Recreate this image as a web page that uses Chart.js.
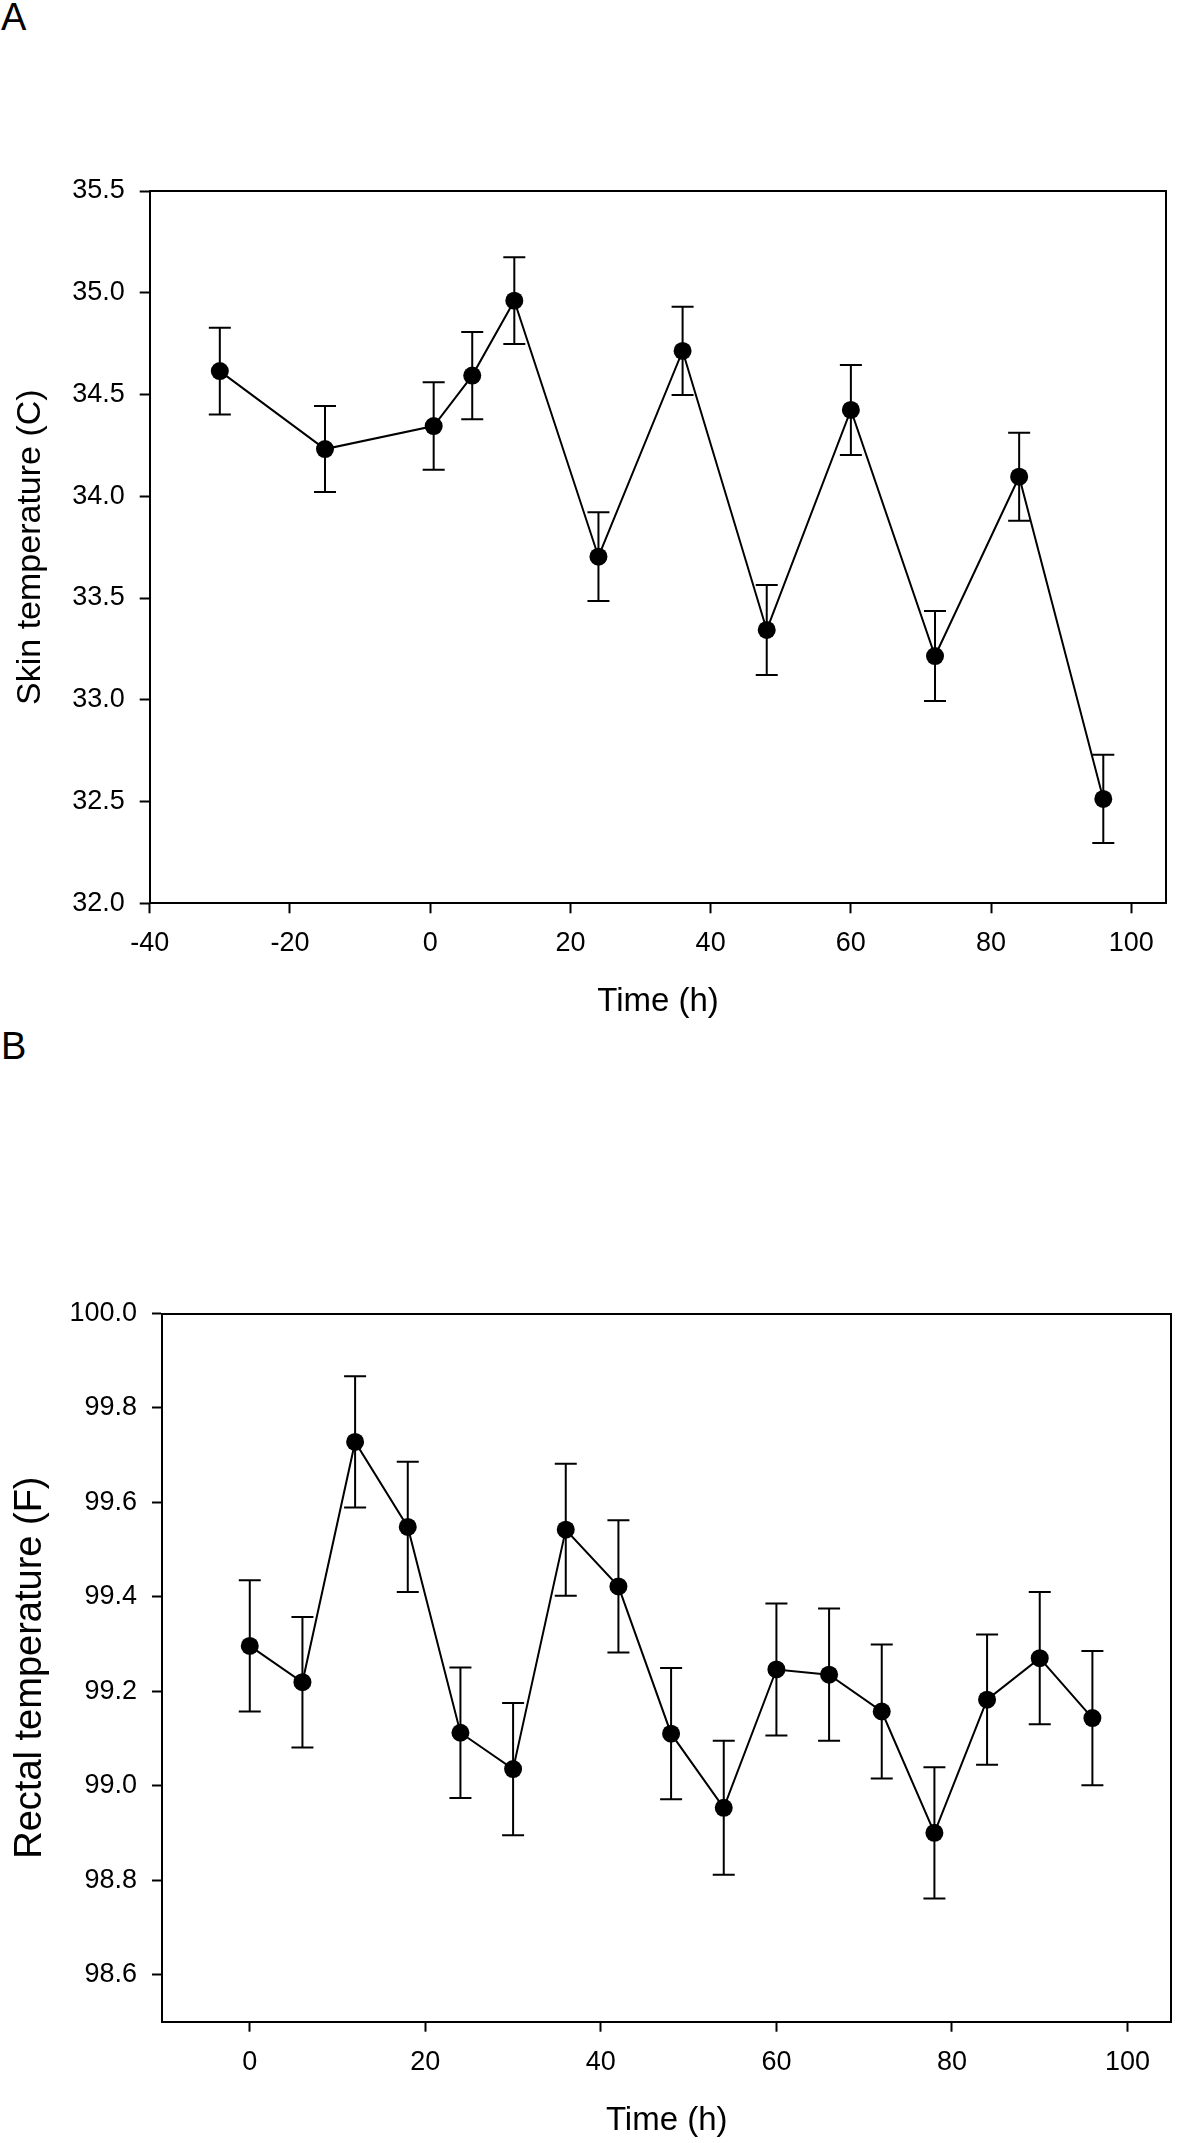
<!DOCTYPE html>
<html>
<head>
<meta charset="utf-8">
<script src="https://cdn.jsdelivr.net/npm/chart.js@4/dist/chart.umd.min.js"></script>
<style>
  html, body { margin: 0; padding: 0; background: #fff; }
  #page { position: relative; width: 1200px; height: 2143px; background: #fff; overflow: hidden; }
  .panel { position: absolute; left: 0; width: 1200px; }
  .letter { position: absolute; left: 1px; font-family: "Liberation Sans", Arial, sans-serif; font-size: 38px; line-height: 38px; color: #000; }
</style>
</head>
<body>
<div id="page">
  <div class="letter" style="top:-2px;">A</div>
  <div class="letter" style="top:1027px;">B</div>
  <div class="panel" style="top:0px; height:1070px;"><canvas id="chartA"></canvas></div>
  <div class="panel" style="top:1090px; height:1053px;"><canvas id="chartB"></canvas></div>
</div>
<script>
// ---------- Panel A: skin temperature ----------
const timeA = [-30, -15, 0.5, 6, 12, 24, 36, 48, 60, 72, 84, 96];
const skinTemp = [34.615, 34.232, 34.345, 34.593, 34.961, 33.703, 34.714, 33.343, 34.424, 33.215, 34.096, 32.513];
const skinSE = [0.213, 0.211, 0.215, 0.214, 0.213, 0.218, 0.217, 0.221, 0.221, 0.221, 0.216, 0.217];
const xTicksA = [-40, -20, 0, 20, 40, 60, 80, 100];
const yTicksA = [32.0, 32.5, 33.0, 33.5, 34.0, 34.5, 35.0, 35.5];

// ---------- Panel B: rectal temperature ----------
const timeB = [0, 6, 12, 18, 24, 30, 36, 42, 48, 54, 60, 66, 72, 78, 84, 90, 96];
const rectalTemp = [99.296, 99.219, 99.728, 99.548, 99.112, 99.035, 99.542, 99.422, 99.110, 98.953, 99.246, 99.235, 99.157, 98.900, 99.182, 99.270, 99.143];
const rectalSE = [0.139, 0.138, 0.139, 0.138, 0.138, 0.140, 0.140, 0.140, 0.139, 0.142, 0.140, 0.140, 0.142, 0.139, 0.138, 0.140, 0.142];
const xTicksB = [0, 20, 40, 60, 80, 100];
const yTicksB = [98.6, 98.8, 99.0, 99.2, 99.4, 99.6, 99.8, 100.0];

Chart.defaults.font.family = '"Liberation Sans", Arial, sans-serif';
Chart.defaults.color = '#000';

const errorBars = {
  id: 'errorBars',
  beforeDatasetsDraw(chart, args, opts) {
    const ctx = chart.ctx;
    const xs = chart.scales.x, ys = chart.scales.y;
    const t = opts.times, v = opts.values, e = opts.errors;
    ctx.save();
    ctx.strokeStyle = '#000';
    ctx.lineWidth = 2;
    for (let i = 0; i < t.length; i++) {
      const px = xs.getPixelForValue(t[i]);
      const pt = ys.getPixelForValue(v[i] + e[i]);
      const pb = ys.getPixelForValue(v[i] - e[i]);
      ctx.beginPath();
      ctx.moveTo(px, pt); ctx.lineTo(px, pb);
      ctx.moveTo(px - 11, pt); ctx.lineTo(px + 11, pt);
      ctx.moveTo(px - 11, pb); ctx.lineTo(px + 11, pb);
      ctx.stroke();
    }
    ctx.restore();
  }
};

function frameAxis(pos) {
  return {
    type: 'linear', position: pos, display: true,
    ticks: { display: false },
    grid: { display: false, drawOnChartArea: false, drawTicks: false },
    border: { display: true, color: '#000', width: 2 },
    afterFit(s) { if (pos === 'top') s.height = 0; else s.width = 0; }
  };
}

function makeChart(id, times, values, errors, xMin, xMax, xTicks, yMin, yMax, yTicks, yTitle, yTitleSize, yTitlePad, padding, yWidth) {
  const pts = times.map((t, i) => ({ x: t, y: values[i] }));
  return new Chart(document.getElementById(id), {
    type: 'line',
    data: {
      datasets: [{
        data: pts,
        borderColor: '#000',
        borderWidth: 2,
        backgroundColor: '#000',
        pointBackgroundColor: '#000',
        pointBorderColor: '#000',
        pointBorderWidth: 0,
        pointRadius: 9,
        pointHoverRadius: 9,
        tension: 0,
        fill: false
      }]
    },
    options: {
      responsive: true,
      maintainAspectRatio: false,
      animation: false,
      events: [],
      layout: { padding: padding },
      plugins: {
        legend: { display: false },
        tooltip: { enabled: false },
        errorBars: { times: times, values: values, errors: errors }
      },
      scales: {
        x: {
          type: 'linear', position: 'bottom', min: xMin, max: xMax,
          afterBuildTicks(s) { s.ticks = xTicks.map(v => ({ value: v })); },
          ticks: { font: { size: 27 }, color: '#000', padding: 14.5, maxRotation: 0, autoSkip: false,
                   callback: v => String(v) },
          grid: { display: true, drawOnChartArea: false, drawTicks: true, tickLength: 10, tickWidth: 2, tickColor: '#000' },
          border: { display: true, color: '#000', width: 2 },
          title: { display: true, text: 'Time (h)', font: { size: 33 }, color: '#000', padding: { top: 0, bottom: 1.2 } },
          afterFit(s) { s.height = 120; }
        },
        y: {
          type: 'linear', position: 'left', min: yMin, max: yMax,
          afterBuildTicks(s) { s.ticks = yTicks.map(v => ({ value: v })); },
          ticks: { font: { size: 27 }, color: '#000', padding: 15, autoSkip: false,
                   callback: v => Number(v).toFixed(1) },
          grid: { display: true, drawOnChartArea: false, drawTicks: true, tickLength: 10, tickWidth: 2, tickColor: '#000' },
          border: { display: true, color: '#000', width: 2 },
          title: { display: true, text: yTitle, font: { size: yTitleSize }, color: '#000', padding: { top: yTitlePad, bottom: 0 } },
          afterFit(s) { s.width = yWidth; }
        },
        x2: frameAxis('top'),
        y2: frameAxis('right')
      }
    },
    plugins: [errorBars]
  });
}

makeChart('chartA', timeA, skinTemp, skinSE, -40, 105, xTicksA, 32.0, 35.5, yTicksA,
          'Skin temperature (C)', 34, 10.6, { top: 191, left: 0, right: 33.6, bottom: 46.7 }, 149.7);
makeChart('chartB', timeB, rectalTemp, rectalSE, -10, 105, xTicksB, 98.5, 100.0, yTicksB,
          'Rectal temperature (F)', 38, 8.2, { top: 223.5, left: 0, right: 28.6, bottom: 1.3 }, 162);
</script>
</body>
</html>
